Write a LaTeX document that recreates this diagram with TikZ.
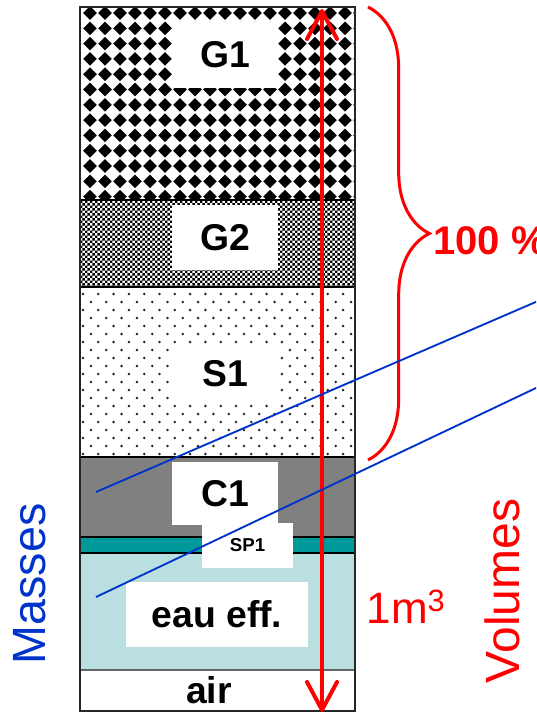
\documentclass[tikz,border=0pt]{standalone}
\usepackage{fontspec}
\setmainfont{Liberation Sans}
\usetikzlibrary{patterns,decorations.pathreplacing,arrows.meta}

\pgfdeclarepatternformonly{finechecker}{\pgfpointorigin}{\pgfqpoint{4pt}{4pt}}{\pgfqpoint{4pt}{4pt}}{%
  \pgfpathrectangle{\pgfpointorigin}{\pgfqpoint{2.05pt}{2.05pt}}%
  \pgfpathrectangle{\pgfqpoint{2pt}{2pt}}{\pgfqpoint{2.05pt}{2.05pt}}%
  \pgfusepath{fill}}

\definecolor{claygray}{HTML}{808080}
\definecolor{spteal}{HTML}{009999}
\definecolor{waterblue}{HTML}{B9DFE1}
\definecolor{massblue}{HTML}{0033CC}

\tikzset{
  layerlbl/.style={fill=white, inner sep=0pt, font=\bfseries\fontsize{28}{30}\selectfont},
  sep/.style={line width=1.5pt},
}

\begin{document}
\begin{tikzpicture}[x=0.75pt, y=-0.75pt]
  \useasboundingbox (0,0) rectangle (536,714);
  \clip (0,0) rectangle (536,714);

  % Gravel G1 (diamonds)
  \fill[white] (80,7) rectangle (355,200);
  \begin{scope}
    \clip (80,7) rectangle (355,200);
    \foreach \i in {0,...,18}
      \foreach \j in {0,...,12}
        \fill[shift={({90+15*\i},{13+15.3*\j})}] (-6.8,0) -- (0,-6.8) -- (6.8,0) -- (0,6.8) -- cycle;
  \end{scope}

  % Gravel G2 (fine checker)
  \fill[white] (80,200) rectangle (355,287);
  \fill[pattern=finechecker] (80,200) rectangle (355,287);

  % Sand S1 (dots)
  \fill[white] (80,287) rectangle (355,457);
  \foreach \j in {0,...,20}
    \foreach \k in {0,...,17}
      \fill[black!85] ({83+8*mod(\j,2)+15.3*\k},{294+8*\j}) circle (1.4);

  % Cement, SP, water, air
  \fill[claygray] (80,457) rectangle (355,537);
  \fill[spteal] (80,537) rectangle (355,553);
  \fill[waterblue] (80,553) rectangle (355,670);
  \fill[white] (80,670) rectangle (355,710);

  \foreach \y in {200,287,457,537,553}
    \draw[sep] (80,\y) -- (355,\y);
  \draw[line width=1pt, black!60] (80,670) -- (355,670);
  \draw[line width=1.5pt, black!85] (80,7) rectangle (355,711);

  % Labels
  \node[layerlbl, minimum width=79.5pt, minimum height=49.5pt] (g1) at (225,55) {G1};
  \node[layerlbl, minimum width=79.5pt, minimum height=48.75pt] (g2) at (225,237.5) {G2};
  \node[layerlbl, minimum width=79.5pt, minimum height=39pt] (s1) at (225,374) {S1};
  \node[layerlbl, minimum width=79.5pt, minimum height=47.25pt] (c1) at (225,493.5) {C1};
  \node[layerlbl, font=\bfseries\fontsize{14}{16}\selectfont,
        minimum width=68.25pt, minimum height=33.75pt] (sp1) at (247.5,545.5) {SP1};
  \node[layerlbl, minimum width=136.5pt, minimum height=48.75pt] (eau) at (217,614.5) {eau eff.};
  \node[font=\bfseries\fontsize{28}{30}\selectfont, inner sep=0pt] (air) at (209,690) {air};

  % Volume arrow and brace
  \coordinate (vtop) at (322,9);
  \coordinate (vbot) at (322,712);
  \draw[red, line width=3pt, {Straight Barb[round,length=21pt,width=22.5pt]}-{Straight Barb[round,length=21pt,width=22.5pt]}] (vtop) -- (vbot);
  \draw[red, line width=2.25pt, decorate, decoration={brace, amplitude=46pt}] (368,7) -- (368,460);
  \node[red, font=\bfseries\fontsize{30}{32}\selectfont, anchor=west, inner sep=0pt] (pct) at (433,241) {100 \%};

  % Mass lines
  \coordinate (c1pt) at (96,492);
  \coordinate (eaupt) at (96,597);
  \coordinate (far1) at (560,291.5);
  \coordinate (far2) at (560,376.6);
  \draw[massblue, line width=1.4pt] (c1pt) -- (far1);
  \draw[massblue, line width=1.4pt] (eaupt) -- (far2);

  % Side texts
  \node[massblue, rotate=90, font=\fontsize{35}{40}\selectfont, inner sep=0pt] (mass) at (30,584) {Masses};
  \node[red, rotate=90, font=\fontsize{36}{40}\selectfont, inner sep=0pt] (vol) at (502,591) {Volumes};
  \node[red, font=\fontsize{33}{36}\selectfont, inner sep=0pt] (m3) at (406,607) {1m\textsuperscript{3}};
\end{tikzpicture}
\end{document}
